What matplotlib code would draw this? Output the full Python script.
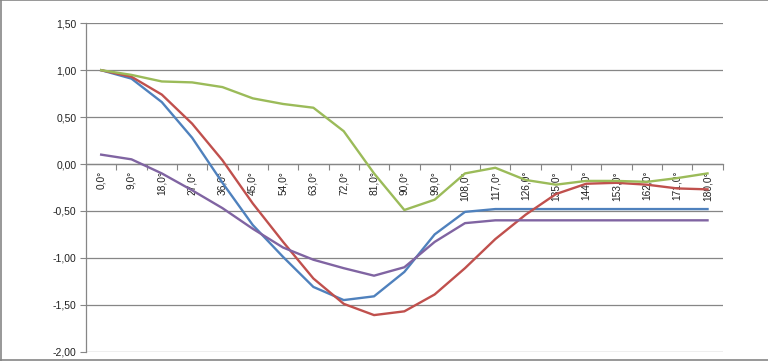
import matplotlib
matplotlib.use("Agg")
import matplotlib.pyplot as plt
from matplotlib.lines import Line2D

categories = ["0,0°", "9,0°", "18,0°", "27,0°", "36,0°", "45,0°", "54,0°", "63,0°", "72,0°",
              "81,0°", "90,0°", "99,0°", "108,0°", "117,0°", "126,0°", "135,0°", "144,0°",
              "153,0°", "162,0°", "171,0°", "180,0°"]
blue = [1.00, 0.91, 0.66, 0.28, -0.20, -0.65, -0.99, -1.31, -1.45, -1.41, -1.15, -0.75, -0.51,
        -0.48, -0.48, -0.48, -0.48, -0.48, -0.48, -0.48, -0.48]
red = [1.00, 0.93, 0.74, 0.43, 0.04, -0.42, -0.83, -1.22, -1.49, -1.61, -1.57, -1.39, -1.11,
       -0.80, -0.54, -0.32, -0.21, -0.20, -0.22, -0.26, -0.27]
green = [1.00, 0.95, 0.88, 0.87, 0.82, 0.70, 0.64, 0.60, 0.35, -0.10, -0.49, -0.38, -0.10,
         -0.04, -0.17, -0.22, -0.18, -0.18, -0.19, -0.15, -0.10]
purple = [0.10, 0.05, -0.10, -0.28, -0.47, -0.69, -0.89, -1.02, -1.11, -1.19, -1.10, -0.83, -0.63,
          -0.60, -0.60, -0.60, -0.60, -0.60, -0.60, -0.60, -0.60]
yticks = [-2.0, -1.5, -1.0, -0.5, 0.0, 0.5, 1.0, 1.5]

plt.rcParams['font.family'] = ['Liberation Sans', 'DejaVu Sans']
fig = plt.figure(figsize=(7.68, 3.61), dpi=100)
ax = fig.add_axes([0.112, 0.0258, 0.829, 0.9097])

x = list(range(len(categories)))
for series, col in [(blue, '#4F81BD'), (red, '#C0504D'), (green, '#9BBB59'), (purple, '#8064A2')]:
    ax.plot(x, series, color=col, lw=1.7, solid_joinstyle='round', zorder=3)

ax.set_xlim(-0.5, len(categories) - 0.5)
ax.set_ylim(-2.0, 1.5)
ax.set_yticks(yticks)
ax.set_yticklabels([f"{v:.2f}".replace('.', ',') for v in yticks], fontsize=7.5, color='#222222')
ax.yaxis.grid(True, color='#868686', lw=0.9)
ax.set_axisbelow(True)

ax.spines['top'].set_visible(False)
ax.spines['right'].set_visible(False)
ax.spines['bottom'].set_position(('data', 0))
for s in ['left', 'bottom']:
    ax.spines[s].set_color('#868686')
    ax.spines[s].set_linewidth(0.9)

ax.set_xticks([i - 0.5 for i in range(len(categories) + 1)])
ax.set_xticklabels([])
ax.set_xticks(x, minor=True)
ax.set_xticklabels(categories, minor=True, rotation=90, fontsize=7.3, color='#222222')
ax.tick_params(axis='x', which='major', length=4, color='#868686', direction='out')
ax.tick_params(axis='x', which='minor', length=0, pad=5)
ax.tick_params(axis='y', length=4, color='#868686', pad=3)
for lbl in ax.get_xticklabels(minor=True):
    lbl.set_va('top')

# chart-area border (top, left, bottom)
border = dict(transform=fig.transFigure, color='#868686', lw=1.2)
fig.lines.append(Line2D([0, 1], [0.999, 0.999], **border))
fig.lines.append(Line2D([0.0008, 0.0008], [0, 1], **border))
fig.lines.append(Line2D([0, 1], [0.002, 0.002], **border))
fig.savefig('out.png', dpi=100)
